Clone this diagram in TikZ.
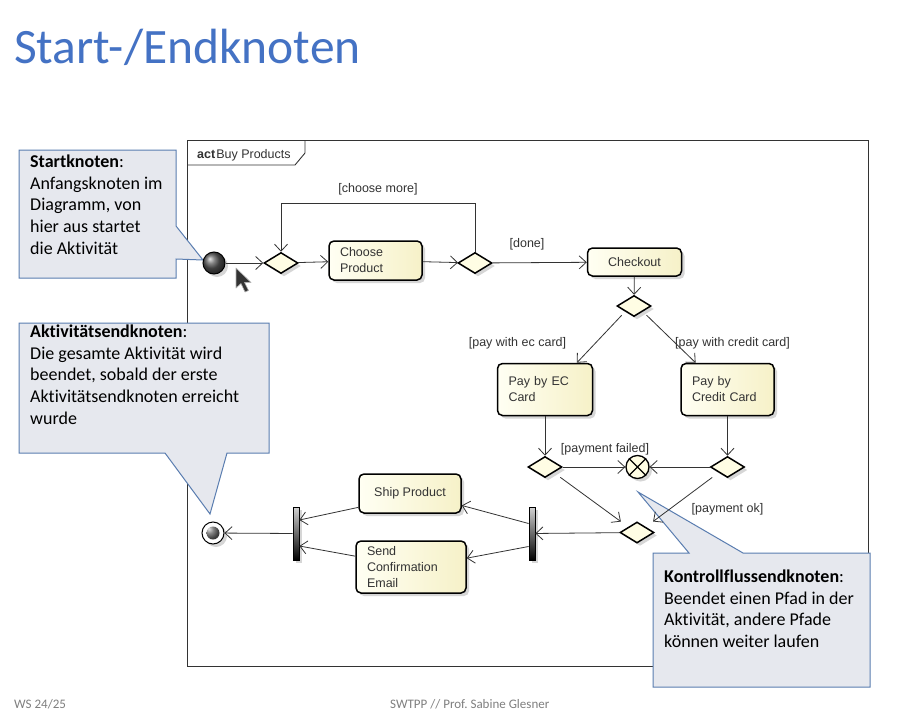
\documentclass[tikz,border=0pt]{standalone}
\usepackage{fontspec}
\setmainfont{Liberation Sans}
\newfontfamily\calfont[Ligatures=NoCommon]{Carlito}
\usetikzlibrary{shapes.geometric,arrows.meta,shadows,calc}
\definecolor{titleblue}{HTML}{4472C4}
\definecolor{callfill}{HTML}{E6E8EE}
\definecolor{callline}{HTML}{5A7DB0}
\definecolor{actL}{HTML}{FFFFF3}
\definecolor{actR}{HTML}{F6F1C8}
\definecolor{decfill}{HTML}{FFFDE4}
\definecolor{shadowgray}{HTML}{D6D6D6}
\definecolor{linegray}{HTML}{333333}
\definecolor{footgray}{HTML}{7F7F7F}
\tikzset{
  myshadow/.style={drop shadow={shadow xshift=3pt,shadow yshift=-3pt,fill=shadowgray,opacity=1}},
  flow/.style={draw=linegray, line width=0.8pt, -{Straight Barb[length=7pt,width=13pt,line width=0.8pt]}},
  action/.style={draw=black, line width=1.5pt, rounded corners=5pt, left color=actL, right color=actR,
    myshadow, font=\fontsize{12.5}{16}\selectfont, text=linegray, inner ysep=2pt},
  decision/.style={diamond, draw=black, line width=1.5pt, fill=decfill, minimum width=34pt,
    minimum height=21pt, inner sep=0pt, myshadow},
  syncbar/.style={rectangle, draw=black, line width=0.8pt, top color=gray!35, bottom color=black,
    minimum width=6pt, minimum height=53pt, inner sep=0pt, myshadow},
  startnode/.style={circle, draw=black, line width=1pt, shading=ball, ball color=gray!70!black,
    minimum size=22pt, inner sep=0pt, myshadow},
  finalnode/.style={circle, draw=black, line width=1pt, fill=white, minimum size=22pt, inner sep=0pt,
    myshadow, path picture={\shade[ball color=gray!70!black] (path picture bounding box.center) circle (6.5pt);}},
  flowfinal/.style={circle, draw=black, line width=1.3pt, fill=decfill, minimum size=23pt, inner sep=0pt, myshadow},
  glabel/.style={font=\fontsize{12.5}{15}\selectfont, text=linegray, inner sep=0pt},
  callout/.style={draw=callline, fill=callfill, line width=1pt, line join=miter},
  callouttext/.style={font=\calfont\fontsize{18}{21.8}\selectfont, align=left, anchor=north west, inner sep=0pt, text=black},
  foot/.style={anchor=base west, font=\calfont\fontsize{13}{15}\selectfont, text=footgray, inner sep=0pt},
}
\begin{document}
\begin{tikzpicture}[x=1pt,y=-1pt]
\useasboundingbox (0,0) rectangle (900,712);
\fill[white] (0,0) rectangle (900,712);
% title
\node[anchor=base west, font=\calfont\fontsize{49.5}{52}\selectfont, text=titleblue, inner sep=0pt] (title) at (14,63) {Start-/Endknoten};
% frame
\draw[linegray, line width=0.9pt] (187,140) rectangle (868,666);
\draw[linegray, line width=0.9pt] (187,165) -- (295,165) -- (305,153) -- (305,140);
\node[anchor=base west, font=\fontsize{12.5}{15}\selectfont, text=linegray, inner sep=0pt] (actname) at (197,158) {\textbf{act}\hspace{1pt}Buy Products};
% callouts
\draw[callout] (19,150) -- (176,150) -- (176,226) -- (203,260) -- (176,259) -- (176,278) -- (19,278) -- cycle;
\node[callouttext] (t1) at (30,154.5) {\textbf{Startknoten}:\\Anfangsknoten im\\Diagramm, von\\hier aus startet\\die Aktivität};
\draw[callout] (19,323) -- (269,323) -- (269,453) -- (227,453) -- (210,514) -- (165,453) -- (19,453) -- cycle;
\node[callouttext] (t2) at (30,324.5) {\textbf{Aktivitätsendknoten}:\\Die gesamte Aktivität wird\\beendet, sobald der erste\\Aktivitätsendknoten erreicht\\wurde};
\draw[callout] (653,553) -- (689,553) -- (638,492) -- (743,553) -- (870,553) -- (870,687) -- (653,687) -- cycle;
\node[callouttext] (t3) at (664,569.5) {\textbf{Kontrollflussendknoten}:\\Beendet einen Pfad in der\\Aktivität, andere Pfade\\können weiter laufen};
% nodes
\node[startnode] (start) at (214,263) {};
\node[decision] (d1) at (281,263) {};
\node[action, text width=71pt, inner xsep=11pt, align=left, minimum height=39pt] (choose) at (375.5,260.5) {Choose\\Product};
\node[decision] (d2) at (475,263) {};
\node[action, minimum width=94pt, minimum height=28pt] (chk) at (634.5,262) {Checkout};
\node[decision] (d3) at (634,306) {};
\node[action, text width=73pt, inner xsep=11pt, align=left, minimum height=52pt] (ec) at (545,389.5) {Pay by EC\\Card};
\node[action, text width=71pt, inner xsep=11pt, align=left, minimum height=52pt] (cc) at (727.5,389.5) {Pay by\\Credit Card};
\node[decision] (d4) at (545,467) {};
\node[decision] (d5) at (727.5,467) {};
\node[flowfinal] (ff) at (637.5,467) {};
\draw[line width=1.3pt] (ff.45) -- (ff.225) (ff.135) -- (ff.315);
\node[decision] (m) at (637,532.5) {};
\node[syncbar] (fork) at (532,533.5) {};
\node[action, minimum width=102pt, minimum height=39pt] (ship) at (410,493.5) {Ship Product};
\node[action, text width=88pt, inner xsep=11pt, align=left, minimum height=52pt] (send) at (411,567) {Send\\Confirmation\\Email};
\node[syncbar] (join) at (296,533.5) {};
\node[finalnode] (fin) at (213,533) {};
\coordinate (loop) at (0,203);
% connectors
\draw[flow] (start) -- (d1);
\draw[flow] (d1) -- (choose);
\draw[flow] (choose) -- (d2);
\draw[flow] (d2.north) -- (d2.north |- loop) -| (d1.north);
\draw[flow] (d2) -- (chk);
\draw[flow] (chk) -- (d3);
\draw[flow, shorten <=5pt] (d3.south west) -- (ec.40);
\draw[flow, shorten <=5pt] (d3.south east) -- (cc.140);
\draw[flow] (ec) -- (d4);
\draw[flow] (cc) -- (d5);
\draw[flow] (d4) -- (ff);
\draw[flow] (d5) -- (ff);
\draw[flow, shorten <=8pt, shorten >=9pt] (d4.south east) -- (m.north west);
\draw[flow, shorten <=8pt, shorten >=9pt] (d5.south west) -- (m.north east);
\draw[flow] (m) -- (fork);
\draw[flow] ($(fork.west)+(0,-10)$) -- (ship.-13);
\draw[flow] ($(fork.west)+(0,13)$) -- (send.9);
\draw[flow] (ship.195) -- ($(join.east)+(0,-13.5)$);
\draw[flow] (send.169) -- ($(join.east)+(0,12.5)$);
\draw[flow] (join) -- (fin);
% guard labels
\node[glabel] (lmore) at (378,189) {[choose more]};
\node[glabel] (ldone) at (527,244) {[done]};
\node[glabel] (lec) at (517.5,343) {[pay with ec card]};
\node[glabel] (lcc) at (732.5,343) {[pay with credit card]};
\node[glabel] (lfail) at (605,449) {[payment failed]};
\node[glabel] (lok) at (727.5,509) {[payment ok]};
% mouse cursor
\draw[fill=linegray, draw=gray!60, line width=0.6pt, line join=round] (236,268) -- (236,288) -- (241,283.5) -- (245,292) -- (248.5,290.5) -- (244.5,282.5) -- (251,282.5) -- cycle;
% footer
\node[foot] (f1) at (14,708) {WS 24/25};
\node[foot] (f2) at (390,708) {SWTPP // Prof.\ Sabine Glesner};
\end{tikzpicture}
\end{document}
